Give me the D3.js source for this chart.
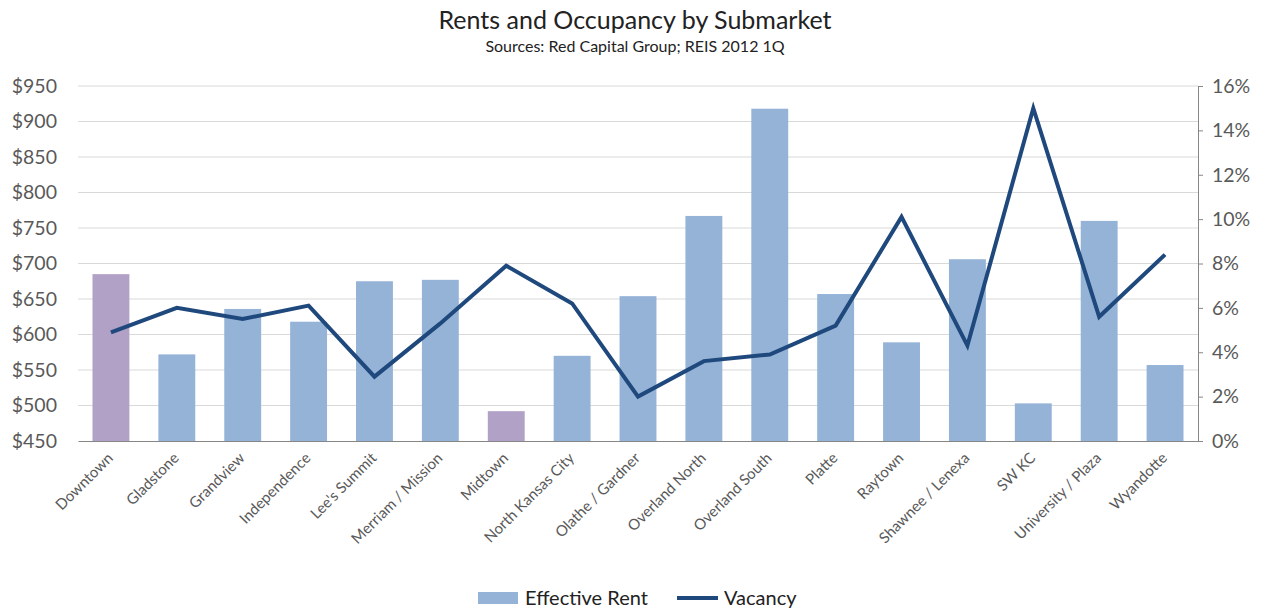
<!DOCTYPE html>
<html>
<head>
<meta charset="utf-8">
<script src="https://cdn.jsdelivr.net/npm/d3@7"></script>
<style>
  body { margin: 0; background: #fff; }
  svg { font-family: Lato, "Open Sans", sans-serif; }
</style>
</head>
<body>
<svg id="chart"></svg>
<script>
// values
const submarkets = ["Downtown", "Gladstone", "Grandview", "Independence", "Lee's Summit",
  "Merriam / Mission", "Midtown", "North Kansas City", "Olathe / Gardner", "Overland North",
  "Overland South", "Platte", "Raytown", "Shawnee / Lenexa", "SW KC", "University / Plaza", "Wyandotte"];
const effectiveRent = [685, 572, 636, 618, 675, 677, 492, 570, 654, 767, 918, 657, 589, 706, 503, 760, 557];
const vacancy = [4.9, 6.0, 5.5, 6.1, 2.9, 5.3, 7.9, 6.2, 2.0, 3.6, 3.9, 5.2, 10.1, 4.3, 15.0, 5.6, 8.4];
const highlighted = ["Downtown", "Midtown"];
const rentTicks = [450, 500, 550, 600, 650, 700, 750, 800, 850, 900, 950];
const vacancyTicks = [0, 2, 4, 6, 8, 10, 12, 14, 16];

const width = 1262, height = 610;
const margin = { top: 86, right: 64, bottom: 169, left: 78 };
const innerW = width - margin.left - margin.right;
const innerH = height - margin.top - margin.bottom;
const font = "Lato, 'Open Sans', sans-serif";

const svg = d3.select("#chart").attr("width", width).attr("height", height);
const chart = svg.append("g").attr("transform", `translate(${margin.left},${margin.top})`);

const x = d3.scaleBand().domain(submarkets).range([0, innerW]).paddingInner(0.44).paddingOuter(0.22);
const yRent = d3.scaleLinear().domain([450, 950]).range([innerH, 0]);
const yVac = d3.scaleLinear().domain([0, 16]).range([innerH, 0]);

// gridlines
chart.append("g").selectAll("line")
  .data(rentTicks.slice(1))
  .join("line")
  .attr("x1", 0).attr("x2", innerW)
  .attr("y1", d => yRent(d)).attr("y2", d => yRent(d))
  .attr("stroke", "#d9d9d9").attr("stroke-width", 1.2);

// left axis
const leftAxis = chart.append("g")
  .call(d3.axisLeft(yRent).tickValues(rentTicks).tickFormat(d => "$" + d).tickSize(0).tickPadding(21));
leftAxis.attr("font-family", font);
leftAxis.select(".domain").remove();
leftAxis.selectAll("text").attr("fill", "#595959").attr("font-size", 19.5);

// right axis
const rightAxis = chart.append("g")
  .attr("transform", `translate(${innerW},0)`)
  .call(d3.axisRight(yVac).tickValues(vacancyTicks).tickFormat(d => d + "%").tickSize(5).tickPadding(9));
rightAxis.attr("font-family", font);
rightAxis.select(".domain").attr("stroke", "#868686");
rightAxis.selectAll("line").attr("stroke", "#868686");
rightAxis.selectAll("text").attr("fill", "#595959").attr("font-size", 19.5);

// bars
chart.append("g").selectAll("rect")
  .data(submarkets)
  .join("rect")
  .attr("x", d => x(d))
  .attr("width", x.bandwidth())
  .attr("y", (d, i) => yRent(effectiveRent[i]))
  .attr("height", (d, i) => innerH - yRent(effectiveRent[i]))
  .attr("fill", d => highlighted.includes(d) ? "#b2a1c7" : "#95b3d7");

// bottom axis
const bottomAxis = chart.append("g")
  .attr("transform", `translate(0,${innerH})`)
  .call(d3.axisBottom(x).tickSize(0).tickPadding(0));
bottomAxis.attr("font-family", font);
bottomAxis.select(".domain").attr("stroke", "#868686").attr("stroke-width", 1.2);
bottomAxis.selectAll("text")
  .attr("fill", "#595959")
  .attr("font-size", 15)
  .attr("text-anchor", "end")
  .attr("dy", 0)
  .attr("transform", "translate(3,18) rotate(-45)");

// vacancy line
const line = d3.line()
  .x((d, i) => x(submarkets[i]) + x.bandwidth() / 2)
  .y(d => yVac(d));
chart.append("path")
  .datum(vacancy)
  .attr("d", line)
  .attr("fill", "none")
  .attr("stroke", "#1f497d")
  .attr("stroke-width", 4)
  .attr("stroke-linejoin", "miter");

// titles
svg.append("text").attr("x", 635).attr("y", 29).attr("text-anchor", "middle")
  .attr("font-size", 25).attr("fill", "#222").text("Rents and Occupancy by Submarket");
svg.append("text").attr("x", 635).attr("y", 52).attr("text-anchor", "middle")
  .attr("font-size", 16).attr("fill", "#222").text("Sources: Red Capital Group; REIS 2012 1Q");

// legend
const legend = svg.append("g").attr("transform", "translate(478,598)");
legend.append("rect").attr("x", 0).attr("y", -6).attr("width", 40).attr("height", 12).attr("fill", "#95b3d7");
legend.append("text").attr("x", 47).attr("y", 7).attr("font-size", 20).attr("fill", "#222").text("Effective Rent");
legend.append("line").attr("x1", 199).attr("x2", 240).attr("y1", 0).attr("y2", 0)
  .attr("stroke", "#1f497d").attr("stroke-width", 4);
legend.append("text").attr("x", 246).attr("y", 7).attr("font-size", 20).attr("fill", "#222").text("Vacancy");
</script>
</body>
</html>
